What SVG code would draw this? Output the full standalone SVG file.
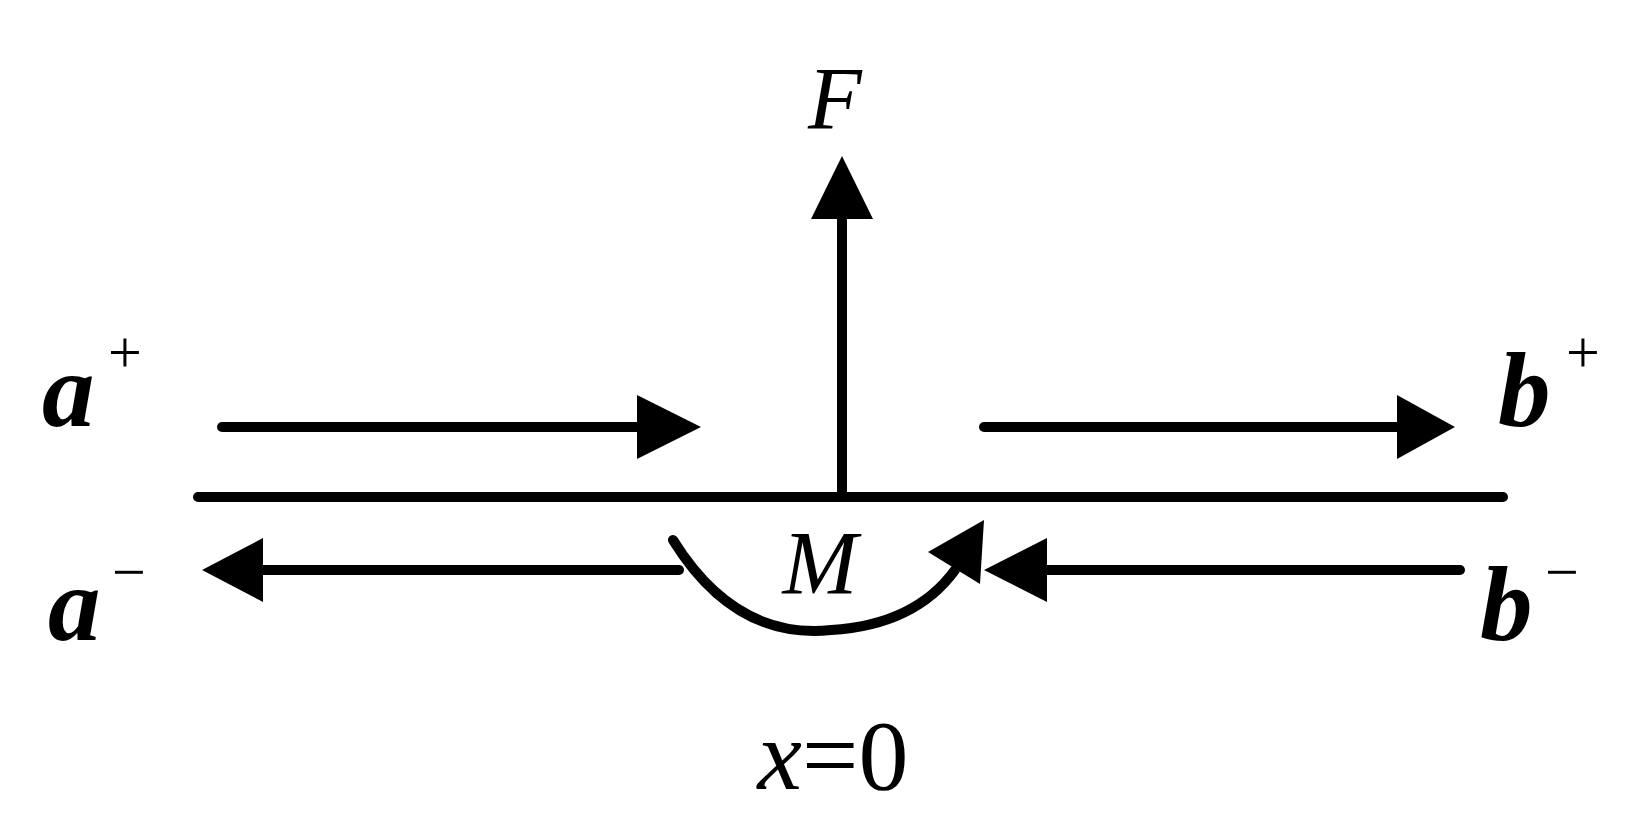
<svg xmlns="http://www.w3.org/2000/svg" width="1641" height="827" viewBox="0 0 1641 827">
<style>
.l{stroke:#000;stroke-width:10;stroke-linecap:round;fill:none}
.t{font-family:"Liberation Serif",serif;fill:#000}
.bi{font-weight:bold;font-style:italic;font-size:105px}
.s{font-size:60px}
</style>
<rect width="1641" height="827" fill="#fff"/>
<g id="connectors">
<line class="l" x1="198" y1="497" x2="1503" y2="497"/>
<line class="l" x1="222" y1="427" x2="640" y2="427"/>
<polygon points="637,395 701,427 637,459"/>
<line class="l" x1="984" y1="427" x2="1400" y2="427"/>
<polygon points="1397,395 1455,427 1397,459"/>
<line x1="842" y1="497" x2="842" y2="215" stroke="#000" stroke-width="10"/>
<polygon points="811,219 842,156 873,219"/>
<line class="l" x1="679" y1="570" x2="250" y2="570"/>
<polygon points="263,538 202,570 263,602"/>
<line class="l" x1="1460" y1="570" x2="1040" y2="570"/>
<polygon points="1047,538 984,570 1047,602"/>
<path class="l" d="M673,540 Q735,640 831,630 Q915,625 955,570"/>
<polygon points="928,552 984,520 980,584"/>
</g>
<g id="F"><text class="t" x="835" y="128" font-style="italic" font-size="88" text-anchor="middle">F</text></g>
<g id="aplus"><text class="t bi" x="42" y="426">a</text><text class="t s" x="108" y="372">+</text></g>
<g id="bplus"><text class="t bi" x="1498" y="426">b</text><text class="t s" x="1566" y="372">+</text></g>
<g id="aminus"><text class="t bi" x="48" y="640">a</text><text class="t s" x="112" y="592">−</text></g>
<g id="bminus"><text class="t bi" x="1480" y="640">b</text><text class="t s" x="1545" y="592">−</text></g>
<g id="M"><text class="t" x="820" y="594" font-style="italic" font-size="90" text-anchor="middle">M</text></g>
<g id="x0"><text class="t" x="833" y="789" font-size="100" text-anchor="middle"><tspan font-style="italic">x</tspan>=0</text></g>
</svg>
